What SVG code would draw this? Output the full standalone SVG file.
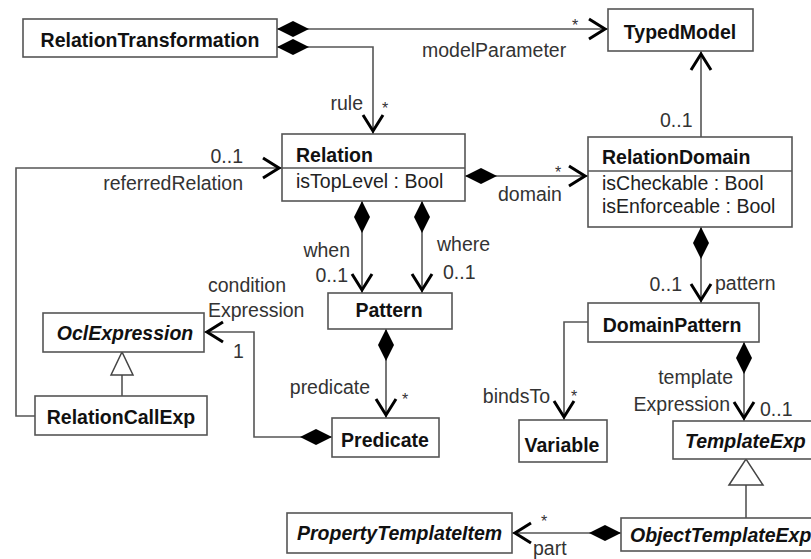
<svg xmlns="http://www.w3.org/2000/svg" width="811" height="559" viewBox="0 0 811 559">
<style>
.box{fill:#fff;stroke:#555;stroke-width:1.6}
.cn{font-family:"Liberation Sans",Arial,sans-serif;font-size:19.5px;font-weight:bold;fill:#111}
.ab{font-style:italic}
.at{font-family:"Liberation Sans",Arial,sans-serif;font-size:19.5px;fill:#222}
.lb{font-family:"Liberation Sans",Arial,sans-serif;font-size:19.5px;fill:#333}
.st{font-family:"Liberation Sans",Arial,sans-serif;font-size:16px;fill:#333}
.ln{fill:none;stroke:#555;stroke-width:1.6}
</style>
<defs>
<marker id="open" markerUnits="userSpaceOnUse" markerWidth="30" markerHeight="30" refX="23" refY="11" orient="auto" overflow="visible"><path d="M4,1 L20,11 L4,21" fill="none" stroke="#000" stroke-width="3"/></marker>
<marker id="dia" markerUnits="userSpaceOnUse" markerWidth="34" markerHeight="18" refX="0" refY="8" orient="auto" overflow="visible"><path d="M0,8 L16,0 L32,8 L16,16 Z" fill="#000"/></marker>
<marker id="genS" markerUnits="userSpaceOnUse" markerWidth="26" markerHeight="26" refX="23" refY="11" orient="auto" overflow="visible"><path d="M0,0 L23,11 L0,22 Z" fill="#fff" stroke="#444" stroke-width="1.5"/></marker>
<marker id="genL" markerUnits="userSpaceOnUse" markerWidth="30" markerHeight="36" refX="26" refY="17" orient="auto" overflow="visible"><path d="M0,0 L26,17 L0,34 Z" fill="#fff" stroke="#444" stroke-width="1.5"/></marker>
</defs>
<g id="connectors">
<path class="ln" d="M277,29 H608" marker-start="url(#dia)" marker-end="url(#open)"/>
<path class="ln" d="M277,47 H373 V134" marker-start="url(#dia)" marker-end="url(#open)"/>
<path class="ln" d="M701,137 V51" marker-end="url(#open)"/>
<path class="ln" d="M465,176 H588" marker-start="url(#dia)" marker-end="url(#open)"/>
<path class="ln" d="M362,201 V293" marker-start="url(#dia)" marker-end="url(#open)"/>
<path class="ln" d="M422,201 V293" marker-start="url(#dia)" marker-end="url(#open)"/>
<path class="ln" d="M386,329 V418" marker-start="url(#dia)" marker-end="url(#open)"/>
<path class="ln" d="M332,437 H254 V332 H204" marker-start="url(#dia)" marker-end="url(#open)"/>
<path class="ln" d="M35,416 H16 V168 H282" marker-end="url(#open)"/>
<path class="ln" d="M122,396 V352" marker-end="url(#genS)"/>
<path class="ln" d="M701,227 V303" marker-start="url(#dia)" marker-end="url(#open)"/>
<path class="ln" d="M588,322 H564 V420" marker-end="url(#open)"/>
<path class="ln" d="M744,342 V421" marker-start="url(#dia)" marker-end="url(#open)"/>
<path class="ln" d="M746,518 V459" marker-end="url(#genL)"/>
<path class="ln" d="M621,533 H512" marker-start="url(#dia)" marker-end="url(#open)"/>
<text class="st" x="575" y="31" text-anchor="middle">*</text>
<text class="lb" x="422" y="57">modelParameter</text>
<text class="lb" x="363" y="110" text-anchor="end">rule</text>
<text class="st" x="385" y="114" text-anchor="middle">*</text>
<text class="lb" x="660" y="127">0..1</text>
<text class="lb" x="243" y="163" text-anchor="end">0..1</text>
<text class="lb" x="243" y="190" text-anchor="end">referredRelation</text>
<text class="st" x="558" y="178" text-anchor="middle">*</text>
<text class="lb" x="498" y="201">domain</text>
<text class="lb" x="350" y="257" text-anchor="end">when</text>
<text class="lb" x="348" y="282" text-anchor="end">0..1</text>
<text class="lb" x="437" y="251">where</text>
<text class="lb" x="443" y="279">0..1</text>
<text class="lb" x="682" y="291" text-anchor="end">0..1</text>
<text class="lb" x="715" y="290">pattern</text>
<text class="lb" x="208" y="292">condition</text>
<text class="lb" x="208" y="317">Expression</text>
<text class="lb" x="233" y="358">1</text>
<text class="lb" x="370" y="394" text-anchor="end">predicate</text>
<text class="st" x="405" y="405" text-anchor="middle">*</text>
<text class="lb" x="550" y="403" text-anchor="end">bindsTo</text>
<text class="st" x="574" y="402" text-anchor="middle">*</text>
<text class="lb" x="733" y="384" text-anchor="end">template</text>
<text class="lb" x="730" y="411" text-anchor="end">Expression</text>
<text class="lb" x="760" y="416">0..1</text>
<text class="st" x="544" y="527" text-anchor="middle">*</text>
<text class="lb" x="533" y="555">part</text>
</g>
<g id="RelationTransformation"><rect class="box" x="23" y="19" width="254" height="38"/><text class="cn" x="150" y="47" text-anchor="middle">RelationTransformation</text></g>
<g id="TypedModel"><rect class="box" x="608" y="9" width="145" height="42"/><text class="cn" x="680" y="39" text-anchor="middle">TypedModel</text></g>
<g id="Relation"><rect class="box" x="282" y="134" width="183" height="67"/><line class="ln" x1="282" y1="168" x2="465" y2="168"/><text class="cn" x="296" y="162">Relation</text><text class="at" x="296" y="188">isTopLevel : Bool</text></g>
<g id="RelationDomain"><rect class="box" x="588" y="137" width="204" height="90"/><line class="ln" x1="588" y1="171" x2="792" y2="171"/><text class="cn" x="602" y="164">RelationDomain</text><text class="at" x="602" y="190">isCheckable : Bool</text><text class="at" x="602" y="213">isEnforceable : Bool</text></g>
<g id="Pattern"><rect class="box" x="328" y="293" width="124" height="36"/><text class="cn" x="389" y="317" text-anchor="middle">Pattern</text></g>
<g id="Predicate"><rect class="box" x="332" y="418" width="107" height="39"/><text class="cn" x="385" y="447" text-anchor="middle">Predicate</text></g>
<g id="OclExpression"><rect class="box" x="43" y="313" width="161" height="39"/><text class="cn ab" x="125" y="340" text-anchor="middle">OclExpression</text></g>
<g id="RelationCallExp"><rect class="box" x="35" y="396" width="172" height="39"/><text class="cn" x="121" y="424" text-anchor="middle">RelationCallExp</text></g>
<g id="DomainPattern"><rect class="box" x="588" y="303" width="171" height="39"/><text class="cn" x="672" y="332" text-anchor="middle">DomainPattern</text></g>
<g id="Variable"><rect class="box" x="519" y="420" width="88" height="42"/><text class="cn" x="562" y="452" text-anchor="middle">Variable</text></g>
<g id="TemplateExp"><rect class="box" x="673" y="421" width="142" height="38"/><text class="cn ab" x="685" y="448">TemplateExp</text></g>
<g id="ObjectTemplateExp"><rect class="box" x="621" y="518" width="200" height="33"/><text class="cn ab" x="630" y="542">ObjectTemplateExp</text></g>
<g id="PropertyTemplateItem"><rect class="box" x="287" y="513" width="225" height="40"/><text class="cn ab" x="297" y="540">PropertyTemplateItem</text></g>
</svg>
